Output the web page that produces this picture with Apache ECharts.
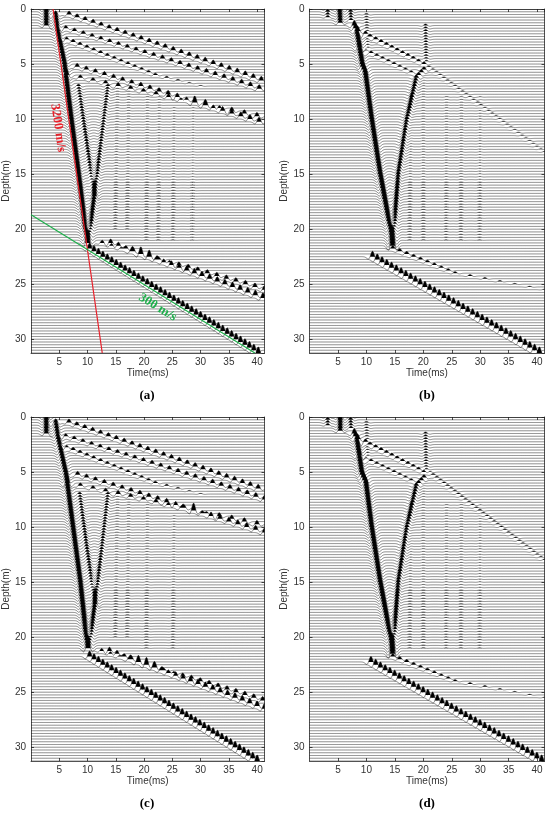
<!DOCTYPE html>
<html>
<head>
<meta charset="utf-8">
<script src="https://cdn.jsdelivr.net/npm/echarts/dist/echarts.min.js"></script>
<style>
html, body { margin: 0; padding: 0; background: #fff; }
#main { width: 550px; height: 814px; }
</style>
</head>
<body>
<div id="main"></div>
<script>
var chartDom = document.getElementById('main');
var myChart = echarts.init(chartDom);
var option;

// axis ranges / ticks
var T_MAX = 41.3;
var D_MAX = 31.25;
var timeTicks = [5, 10, 15, 20, 25, 30, 35, 40];
var depthTicks = [0, 5, 10, 15, 20, 25, 30];
var traceStep = 0.25; // one trace every 0.25 m

// events: [depth(m), time(ms), amplitude]
// --- (a) raw record
var a_source = [[0, 2.7, 1.0], [1.5, 2.7, 0.8]];
var a_direct = [[0.3, 4.3, 0.6], [2, 4.7, 0.7], [5, 5.9, 0.9], [10, 7.1, 1.0], [15, 8.4, 1.0], [20, 9.6, 1.0], [21.4, 10.0, 0.9]];
var a_multiple = [[7, 8.4, 0.3], [12, 9.8, 0.4], [17, 11.2, 0.4]];
var a_up = [[7, 13.6, 0.3], [12, 12.4, 0.35], [17, 11.2, 0.55], [21.4, 10.1, 0.7]];
var a_tubeA1 = [[0.3, 5.6, 0.55], [6.6, 41.3, 0.7]];
var a_tubeA2 = [[1.6, 5.2, 0.45], [7.4, 41.3, 0.7]];
var a_tubeA3 = [[2.7, 6.0, 0.45], [6.0, 22.0, 0.3], [7.0, 30.0, 0.1]];
var a_tubeB1 = [[6.0, 6.5, 0.45], [9.9, 41.3, 0.65]];
var a_tubeB2 = [[5.1, 7.2, 0.55], [10.4, 41.3, 0.75]];
var a_stripe1 = [[7, 15.3, 0.07], [20, 14.9, 0.09]];
var a_stripe2 = [[7, 17.3, 0.06], [20, 17.0, 0.08]];
var a_stripe3 = [[8, 20.6, 0.06], [21, 20.4, 0.08]];
var a_stripe4 = [[8, 22.7, 0.05], [21, 22.5, 0.07]];
var a_stripe5 = [[9, 25.3, 0.05], [21, 25.1, 0.07]];
var a_stripe6 = [[9, 28.7, 0.04], [21, 28.5, 0.05]];
var a_slowC = [[21.7, 10.2, 0.9], [31.25, 40.2, 1.0]];
var a_slowD1 = [[21.1, 11.6, 0.45], [25.5, 41.3, 0.65]];
var a_slowD2 = [[21.2, 13.8, 0.65], [26.3, 41.3, 0.85]];

// --- (b) processed record
var b_src1 = [[0, 3.2, 0.4], [0.8, 3.2, 0.3]];
var b_src2 = [[0, 5.3, 0.9], [1.3, 5.4, 0.7]];
var b_src3 = [[0, 7.2, 0.4], [1.2, 7.3, 0.3]];
var b_direct = [[1.3, 7.7, 0.8], [2, 8.3, 0.9], [5.2, 9.3, 1.0], [5.8, 9.8, 1.0], [10, 10.9, 1.0], [15, 12.4, 1.0], [20, 14.2, 1.0], [21.6, 14.6, 1.0]];
var b_up = [[5.3, 20.5, 0.45], [6.2, 18.8, 0.5], [10, 17.1, 0.5], [15, 15.6, 0.55], [21.6, 14.6, 0.7]];
var b_tube1 = [[2, 8.8, 0.45], [5.1, 20.5, 0.35]];
var b_tube2 = [[3.4, 8.4, 0.35], [5.9, 18.5, 0.25]];
var b_tube3 = [[5.1, 20.6, 0.15], [13, 41.3, 0.1]];
var b_col20 = [[1.5, 20.4, 0.25], [4.8, 20.5, 0.2]];
var b_col10 = [[0.5, 10.0, 0.18], [3.5, 10.2, 0.14]];
var b_stripe1 = [[8, 17.8, 0.07], [21, 17.6, 0.08]];
var b_stripe2 = [[6, 20.0, 0.06], [21, 20.0, 0.08]];
var b_stripe3 = [[8, 24.1, 0.06], [21, 24.0, 0.06]];
var b_stripe4 = [[8, 26.7, 0.07], [21, 26.6, 0.08]];
var b_stripe5 = [[8, 30.0, 0.05], [21, 29.9, 0.06]];
var b_slowC = [[22.3, 10.4, 0.9], [31.25, 40.4, 1.0]];
var b_slowD = [[21.7, 14.4, 0.45], [24, 25.6, 0.25], [25.5, 41.3, 0.08]];

// --- (c) raw record, second method
var c_source = [[0, 2.7, 1.0], [1.5, 2.7, 0.8]];
var c_direct = [[0.3, 4.3, 0.6], [2, 4.8, 0.7], [5.3, 6.2, 0.9], [10, 7.4, 1.0], [15, 8.7, 1.0], [20, 9.75, 1.0], [21.2, 10.0, 0.9]];
var c_multiple = [[7, 8.6, 0.3], [12, 9.9, 0.4], [17, 11.3, 0.4]];
var c_up = [[7, 13.6, 0.3], [12, 12.5, 0.35], [17, 11.3, 0.55], [21.2, 10.2, 0.7]];
var c_tubeA1 = [[0.3, 5.6, 0.55], [6.7, 41.3, 0.7]];
var c_tubeA2 = [[1.6, 5.2, 0.45], [7.5, 41.3, 0.7]];
var c_tubeA3 = [[2.7, 6.0, 0.45], [6.0, 22.0, 0.3], [7.0, 30.0, 0.1]];
var c_tubeB1 = [[6.0, 6.5, 0.45], [9.9, 41.3, 0.65]];
var c_tubeB2 = [[5.1, 7.3, 0.55], [10.5, 41.3, 0.75]];
var c_stripe1 = [[7, 15.3, 0.07], [20, 14.9, 0.09]];
var c_stripe2 = [[7, 17.3, 0.06], [20, 17.0, 0.08]];
var c_stripe3 = [[8, 20.6, 0.06], [21, 20.4, 0.08]];
var c_stripe4 = [[9, 25.3, 0.05], [21, 25.1, 0.07]];
var c_slowC = [[21.6, 9.9, 0.9], [31.25, 40.0, 1.0]];
var c_slowD1 = [[21.1, 11.6, 0.45], [25.8, 41.3, 0.65]];
var c_slowD2 = [[21.2, 13.6, 0.65], [26.5, 41.3, 0.85]];

// --- (d) processed record, second method
var d_src1 = [[0, 3.2, 0.4], [0.8, 3.2, 0.3]];
var d_src2 = [[0, 5.4, 0.9], [1.3, 5.4, 0.7]];
var d_src3 = [[0, 7.2, 0.4], [1.2, 7.3, 0.3]];
var d_direct = [[1.3, 7.7, 0.8], [2, 8.3, 0.9], [5.2, 9.2, 1.0], [6, 9.9, 1.0], [10, 10.9, 1.0], [15, 12.4, 1.0], [20, 14.2, 1.0], [21.6, 14.6, 1.0]];
var d_up = [[5.3, 20.5, 0.45], [6.2, 18.8, 0.5], [10, 17.1, 0.5], [15, 15.6, 0.55], [21.6, 14.6, 0.7]];
var d_tube1 = [[2, 8.8, 0.45], [5.1, 20.5, 0.35]];
var d_tube2 = [[3.4, 8.4, 0.35], [5.9, 18.5, 0.25]];
var d_tube3 = [[4.8, 20.6, 0.2], [13, 41.3, 0.15]];
var d_col20 = [[1.5, 20.4, 0.25], [4.8, 20.5, 0.2]];
var d_col10 = [[0.5, 10.0, 0.18], [3.5, 10.2, 0.14]];
var d_stripe1 = [[8, 17.8, 0.07], [21, 17.6, 0.08]];
var d_stripe2 = [[6, 20.0, 0.06], [21, 20.0, 0.08]];
var d_stripe3 = [[8, 24.1, 0.06], [21, 24.0, 0.06]];
var d_stripe4 = [[8, 26.7, 0.07], [21, 26.6, 0.08]];
var d_stripe5 = [[8, 30.0, 0.05], [21, 29.9, 0.06]];
var d_slowC = [[22.1, 10.3, 0.9], [31.25, 40.8, 1.0]];
var d_slowD = [[21.7, 14.4, 0.45], [24, 25.6, 0.25], [25.5, 41.3, 0.08]];

// velocity guide lines in (a): [time, depth]
var redLine = [[3.9, 0], [12.6, 31.25]];
var greenLine = [[0, 18.7], [39.6, 31.25]];

var panels = [
    { label: '(a)', events: [a_source, a_direct, a_multiple, a_up, a_tubeA1, a_tubeA2, a_tubeA3, a_tubeB1, a_tubeB2,
        a_stripe1, a_stripe2, a_stripe3, a_stripe4, a_stripe5, a_stripe6, a_slowC, a_slowD1, a_slowD2] },
    { label: '(b)', events: [b_src1, b_src2, b_src3, b_direct, b_up, b_tube1, b_tube2, b_tube3, b_col20, b_col10,
        b_stripe1, b_stripe2, b_stripe3, b_stripe4, b_stripe5, b_slowC, b_slowD] },
    { label: '(c)', events: [c_source, c_direct, c_multiple, c_up, c_tubeA1, c_tubeA2, c_tubeA3, c_tubeB1, c_tubeB2,
        c_stripe1, c_stripe2, c_stripe3, c_stripe4, c_slowC, c_slowD1, c_slowD2] },
    { label: '(d)', events: [d_src1, d_src2, d_src3, d_direct, d_up, d_tube1, d_tube2, d_tube3, d_col20, d_col10,
        d_stripe1, d_stripe2, d_stripe3, d_stripe4, d_stripe5, d_slowC, d_slowD] }
];

var gridPos = [
    { left: 29.5, top: 9 },
    { left: 309.5, top: 9 },
    { left: 29.5, top: 417 },
    { left: 309.5, top: 417 }
];

var DT = 0.07;      // sample step, ms
var FREQ = 0.52;    // wavelet peak frequency, 1/ms
var SCALE = 0.55;   // trace deflection, m per unit amplitude

function ricker(tau) {
    var x = Math.PI * FREQ * tau;
    x = x * x;
    return (1 - 2 * x) * Math.exp(-x);
}

// time and amplitude of an event on a trace at depth d
function eventAt(ev, d) {
    if (d < ev[0][0] - 1e-6 || d > ev[ev.length - 1][0] + 1e-6) return null;
    for (var k = 0; k < ev.length - 1; k++) {
        var p = ev[k], q = ev[k + 1];
        if (d >= p[0] - 1e-6 && d <= q[0] + 1e-6) {
            var u = (q[0] === p[0]) ? 0 : (d - p[0]) / (q[0] - p[0]);
            return [p[1] + u * (q[1] - p[1]), p[2] + u * (q[2] - p[2])];
        }
    }
    return null;
}

function makeRender(events) {
    return function (params, api) {
        var d = api.value(1);
        var arr = [];
        events.forEach(function (ev) {
            var r = eventAt(ev, d);
            if (r) arr.push(r);
        });
        var line = [], fill = [];
        var n = Math.round(T_MAX / DT);
        for (var i = 0; i <= n; i++) {
            var t = i * DT;
            var s = 0;
            for (var k = 0; k < arr.length; k++) {
                var tau = t - arr[k][0];
                if (tau > -3 && tau < 3) s += arr[k][1] * ricker(tau);
            }
            line.push(api.coord([t, d - SCALE * s]));
            fill.push(api.coord([t, d - SCALE * Math.max(s, 0)]));
        }
        fill.push(api.coord([T_MAX, d]));
        fill.push(api.coord([0, d]));
        return {
            type: 'group',
            children: [
                { type: 'polygon', silent: true, shape: { points: fill }, style: { fill: '#000' } },
                { type: 'polyline', silent: true, shape: { points: line }, style: { stroke: '#111', lineWidth: 0.5, fill: null } }
            ]
        };
    };
}

var traceData = [];
for (var i = 0; i * traceStep <= D_MAX + 1e-9; i++) traceData.push([0, i * traceStep]);

var axisColor = '#262626';
var textStyle = { fontFamily: 'Liberation Sans', fontSize: 10, color: '#333' };

var grids = [], xAxes = [], yAxes = [], series = [], graphics = [];
panels.forEach(function (p, gi) {
    grids.push({ left: gridPos[gi].left, top: gridPos[gi].top, width: 235, height: 344 });
    xAxes.push({
        gridIndex: gi, type: 'value', min: 0, max: T_MAX, interval: 5,
        name: 'Time(ms)', nameLocation: 'middle', nameGap: 15,
        nameTextStyle: textStyle,
        axisLine: { onZero: false, lineStyle: { color: axisColor, width: 0.8 } },
        axisTick: { inside: true, length: 3, lineStyle: { color: axisColor, width: 0.8 } },
        axisLabel: Object.assign({ margin: 4, showMinLabel: false, showMaxLabel: false,
            formatter: function (v) { return timeTicks.indexOf(v) >= 0 ? String(v) : ''; } }, textStyle),
        splitLine: { show: false }
    });
    yAxes.push({
        gridIndex: gi, type: 'value', min: 0, max: D_MAX, interval: 5, inverse: true,
        name: 'Depth(m)', nameLocation: 'middle', nameGap: 18,
        nameTextStyle: textStyle,
        axisLine: { onZero: false, lineStyle: { color: axisColor, width: 0.8 } },
        axisTick: { inside: true, length: 3, lineStyle: { color: axisColor, width: 0.8 } },
        axisLabel: Object.assign({ margin: 5, showMaxLabel: false,
            formatter: function (v) { return depthTicks.indexOf(v) >= 0 ? String(v) : ''; } }, textStyle),
        splitLine: { show: false }
    });
    series.push({
        type: 'custom', xAxisIndex: gi, yAxisIndex: gi, data: traceData,
        renderItem: makeRender(p.events), clip: true, silent: true, z: 2
    });
    graphics.push({
        type: 'text', x: gridPos[gi].left + 117.5, y: gridPos[gi].top + 387,
        style: { text: p.label, font: 'bold 13px "Liberation Serif"', fill: '#000',
            textAlign: 'center', textVerticalAlign: 'middle', align: 'center', verticalAlign: 'middle' }
    });
});
// top and right box axes (ticks only)
panels.forEach(function (p, gi) {
    xAxes.push({
        gridIndex: gi, type: 'value', position: 'top', min: 0, max: T_MAX, interval: 5,
        axisLine: { onZero: false, lineStyle: { color: axisColor, width: 0.8 } },
        axisTick: { inside: true, length: 3, lineStyle: { color: axisColor, width: 0.8 } },
        axisLabel: { show: false }, splitLine: { show: false }
    });
    yAxes.push({
        gridIndex: gi, type: 'value', position: 'right', min: 0, max: D_MAX, interval: 5, inverse: true,
        axisLine: { onZero: false, lineStyle: { color: axisColor, width: 0.8 } },
        axisTick: { inside: true, length: 3, lineStyle: { color: axisColor, width: 0.8 } },
        axisLabel: { show: false }, splitLine: { show: false }
    });
});

series.push({
    type: 'line', xAxisIndex: 0, yAxisIndex: 0, data: redLine, symbol: 'none', silent: true, z: 5,
    lineStyle: { color: '#e8212b', width: 1.2 }
});
series.push({
    type: 'line', xAxisIndex: 0, yAxisIndex: 0, data: greenLine, symbol: 'none', silent: true, z: 5,
    lineStyle: { color: '#1db04b', width: 1.2 }
});

option = {
    animation: false,
    backgroundColor: '#fff',
    grid: grids,
    xAxis: xAxes,
    yAxis: yAxes,
    series: series,
    graphic: graphics
};
myChart.setOption(option);

// velocity labels placed from data coordinates of panel (a)
var redPos = myChart.convertToPixel({ gridIndex: 0 }, [4.8, 10.8]);
var greenPos = myChart.convertToPixel({ gridIndex: 0 }, [22.4, 27.1]);
graphics.push({
    type: 'text', x: redPos[0], y: redPos[1], rotation: -1.428, z: 10,
    style: { text: '3200 m/s', font: 'bold 13px "Liberation Serif"', fill: '#e8212b',
        textAlign: 'center', textVerticalAlign: 'middle', align: 'center', verticalAlign: 'middle' }
});
graphics.push({
    type: 'text', x: greenPos[0], y: greenPos[1], rotation: -0.55, z: 10,
    style: { text: '300 m/s', font: 'bold 13px "Liberation Serif"', fill: '#1db04b',
        textAlign: 'center', textVerticalAlign: 'middle', align: 'center', verticalAlign: 'middle' }
});
myChart.setOption({ graphic: graphics });
</script>
</body>
</html>
